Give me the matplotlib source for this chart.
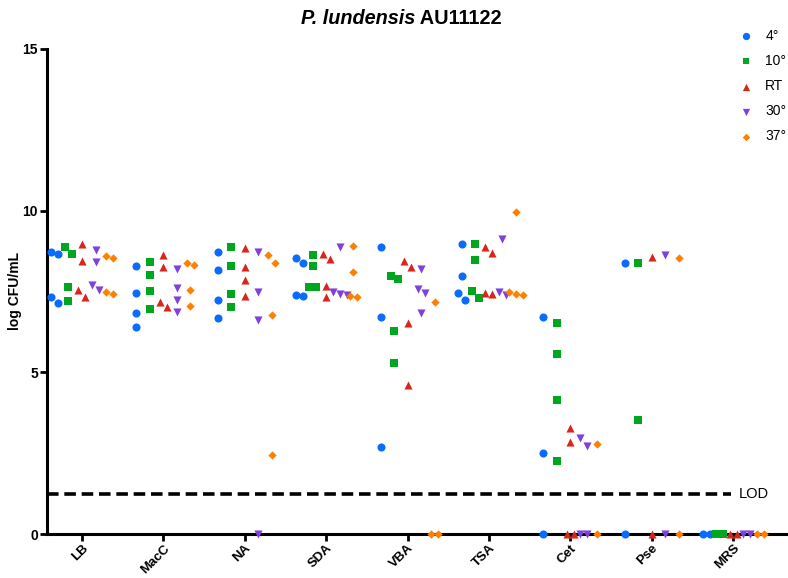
import numpy as np
import matplotlib
matplotlib.use("Agg")
import matplotlib.pyplot as plt

plt.rcParams["font.family"] = ["Liberation Sans", "DejaVu Sans"]

# Media and incubation temperatures
media = ["LB", "MacC", "NA", "SDA", "VBA", "TSA", "Cet", "Pse", "MRS"]
temps = ["4°", "10°", "RT", "30°", "37°"]

# log CFU/mL per medium, one list per temperature
cfu_4 = [[8.72, 8.65, 7.34, 7.15], [8.29, 7.46, 6.83, 6.40], [8.73, 8.17, 7.24, 6.68],
         [8.53, 8.39, 7.38, 7.36], [8.87, 6.72, 2.69], [8.97, 7.98, 7.45, 7.24],
         [6.72, 2.51, 0.0], [8.38, 0.0], [0.0, 0.0]]
cfu_10 = [[8.89, 8.65, 7.63, 7.22], [8.40, 8.00, 7.52, 6.95], [8.89, 8.29, 7.43, 7.03],
          [8.64, 8.29, 7.64, 7.64], [7.98, 7.90, 6.29, 5.28], [8.96, 8.47, 7.53, 7.31],
          [6.53, 5.58, 4.14, 2.27], [8.38, 3.52], [0.0, 0.0]]
cfu_rt = [[8.96, 8.45, 7.55, 7.33], [8.63, 8.27, 7.18, 7.03], [8.86, 8.27, 7.86, 7.36],
          [8.65, 8.52, 7.67, 7.34], [8.45, 8.27, 6.52, 4.62], [8.89, 8.68, 7.44, 7.41],
          [3.27, 2.86, 0.0, 0.0], [8.58, 0.0], [0.0, 0.0]]
cfu_30 = [[8.78, 8.40, 7.71, 7.55], [8.19, 7.62, 7.24, 6.87], [8.71, 7.48, 6.61, 0.0],
          [8.89, 7.49, 7.42, 7.40], [8.19, 7.59, 7.45, 6.85], [9.11, 7.48, 7.38],
          [2.98, 2.73, 0.0, 0.0], [8.62, 0.0], [0.0, 0.0]]
cfu_37 = [[8.60, 8.53, 7.49, 7.42], [8.39, 8.31, 7.54, 7.06], [8.64, 8.39, 6.77, 2.44],
          [8.92, 8.10, 7.35, 7.34], [7.18, 0.0, 0.0], [9.97, 7.50, 7.43, 7.40],
          [2.78, 0.0], [8.54, 0.0], [0.0, 0.0]]
series = [cfu_4, cfu_10, cfu_rt, cfu_30, cfu_37]

lod = 1.24

colors = ["#0a6cff", "#00a71e", "#d9261c", "#8040e0", "#ff8000"]
markers = ["o", "s", "^", "v", "D"]
sizes = [34, 30, 34, 34, 18]

group_step = 0.166   # offset between temperature columns inside a medium
spread = 0.086       # sideways step for points that would overlap
near = 0.30          # values closer than this are spread out


def spread_points(values, center):
    # Prism-like column scatter: close values are fanned out sideways
    vals = sorted(values, reverse=True)
    xs, ys = [], []
    i = 0
    while i < len(vals):
        j = i + 1
        while j < len(vals) and vals[j - 1] - vals[j] < near:
            j += 1
        n = j - i
        for k in range(n):
            xs.append(center + (k - (n - 1) / 2) * spread)
            ys.append(vals[i + k])
        i = j
    return xs, ys


fig = plt.figure(figsize=(7.88, 5.78), dpi=100)
ax = fig.add_axes([47 / 788, 44 / 578, 739 / 788, 485 / 578])

for s, (data, label) in enumerate(zip(series, temps)):
    all_x, all_y = [], []
    for m, vals in enumerate(data):
        xs, ys = spread_points(vals, m + (s - 2) * group_step)
        all_x += xs
        all_y += ys
    ax.scatter(all_x, all_y, marker=markers[s], s=sizes[s], color=colors[s],
               linewidths=0, label=label, clip_on=False, zorder=3)

ax.plot([-0.43, 7.97], [lod, lod], color="black", lw=2.6, ls=(0, (3.2, 1.6)),
        zorder=2, clip_on=False)
ax.text(8.07, lod, "LOD", fontsize=10.5, va="center", ha="left")

ax.set_xlim(-0.43, 8.65)
ax.set_ylim(0, 15)
ax.set_yticks([0, 5, 10, 15])
ax.set_xticks(range(len(media)))
ax.set_xticklabels(media, rotation=45, ha="right", rotation_mode="anchor",
                   fontsize=9.5, fontweight="bold")
for lab in ax.get_yticklabels():
    lab.set_fontweight("bold")
    lab.set_fontsize(10)
ax.tick_params(axis="both", width=2, length=5, direction="out", pad=1.5)
ax.tick_params(axis="x", pad=1)

for side in ["top", "right"]:
    ax.spines[side].set_visible(False)
for side in ["left", "bottom"]:
    ax.spines[side].set_linewidth(2.2)

ax.set_ylabel("log CFU/mL", fontsize=10, fontweight="bold")
ax.yaxis.set_label_coords(-25 / 739, 0.5)

ax.legend(loc="upper left", bbox_to_anchor=(732 / 788, 1 - 22 / 578),
          bbox_transform=fig.transFigure, frameon=False, fontsize=10,
          handlelength=1.0, handletextpad=0.9, labelspacing=0.8,
          borderpad=0, scatterpoints=1, markerscale=0.9)

# title with italic species name
fig.canvas.draw()
renderer = fig.canvas.get_renderer()
t1 = fig.text(0, 1 - 19 / 578, "P. lundensis", fontsize=14.3, fontweight="bold",
              fontstyle="italic", va="center", ha="left")
t2 = fig.text(0, 1 - 19 / 578, " AU11122", fontsize=14.3, fontweight="bold",
              va="center", ha="left")
w1 = t1.get_window_extent(renderer).width / fig.bbox.width
w2 = t2.get_window_extent(renderer).width / fig.bbox.width
x0 = 401 / 788 - (w1 + w2) / 2
t1.set_x(x0)
t2.set_x(x0 + w1)

fig.savefig("out.png", dpi=100)
